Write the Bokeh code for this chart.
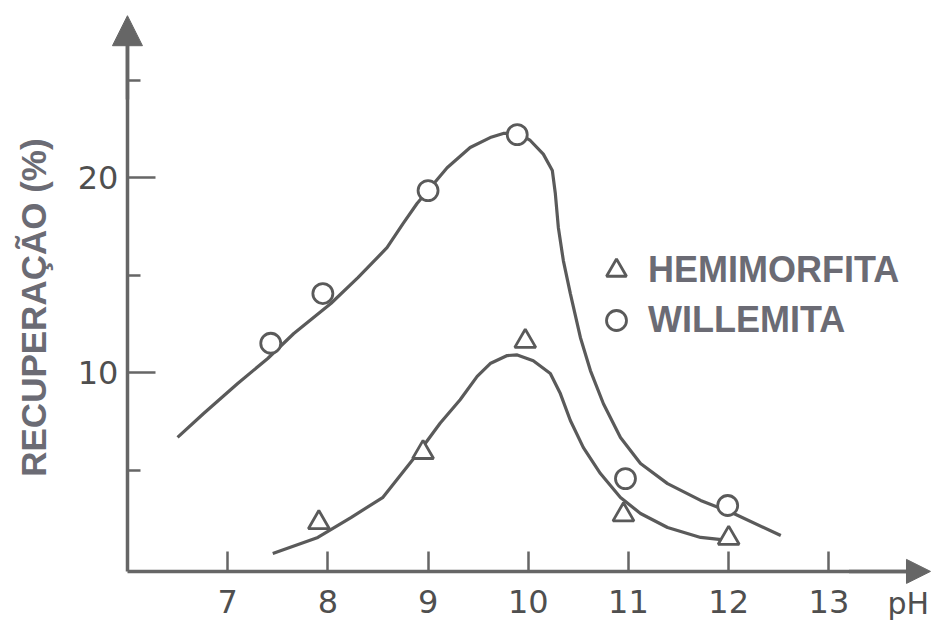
import math
from bokeh.plotting import figure
from bokeh.models import FixedTicker, Arrow, NormalHead, Label, Legend, LegendItem, Range1d
from bokeh.embed import file_html
from bokeh.resources import INLINE

# ---- data ----
x_ticks = [7, 8, 9, 10, 11, 12, 13]
y_major_ticks = [10, 20]
y_minor_ticks = [5, 15, 25]

ph_will = [7.43, 7.95, 9.0, 9.89, 10.97, 11.99]
rec_will = [11.5, 14.05, 19.33, 22.2, 4.56, 3.18]

ph_hemi = [7.91, 8.95, 9.97, 10.95, 12.0]
rec_hemi = [2.3, 5.9, 11.6, 2.7, 1.5]

curve_will_ph = [6.50, 6.76, 7.10, 7.40, 7.66, 8.03, 8.30, 8.59, 8.75, 8.89, 9.19, 9.42,
                 9.62, 9.75, 9.90, 10.02, 10.15, 10.24, 10.27, 10.30, 10.35, 10.42, 10.52,
                 10.62, 10.75, 10.92, 11.12, 11.39, 11.72, 12.05, 12.52]
curve_will_rec = [6.67, 7.90, 9.44, 10.72, 12.0, 13.54, 14.87, 16.4, 17.64, 18.67, 20.5, 21.54,
                  22.05, 22.26, 22.26, 21.9, 21.2, 20.36, 19.18, 17.44, 15.74, 14.05, 11.8,
                  10.1, 8.4, 6.67, 5.33, 4.3, 3.44, 2.77, 1.64]

curve_hemi_ph = [7.45, 7.9, 8.23, 8.55, 8.72, 8.92, 9.12, 9.32, 9.49, 9.62, 9.79, 9.89,
                 10.05, 10.22, 10.32, 10.42, 10.55, 10.72, 10.92, 11.12, 11.39, 11.72, 12.02]
curve_hemi_rec = [0.72, 1.54, 2.56, 3.6, 4.7, 6.0, 7.4, 8.6, 9.8, 10.46, 10.87, 10.9,
                  10.6, 9.95, 8.92, 7.54, 6.15, 4.82, 3.59, 2.77, 2.05, 1.54, 1.38]

LINE = "#5a5a5a"
AXIS = "#666666"
TEXT = "#6b6b74"

X0, X1 = 4.733, 14.034
Y0, Y1 = -2.77, 29.08
AX_X, AX_Y = 6.0, -0.2

p = figure(width=932, height=621, output_backend="svg", toolbar_location=None,
           x_range=Range1d(X0, X1), y_range=Range1d(Y0, Y1),
           min_border_left=0, min_border_right=0, min_border_top=0, min_border_bottom=0)
p.outline_line_color = None
p.grid.visible = False
p.background_fill_color = "white"

# curves
p.line(curve_will_ph, curve_will_rec, line_color=LINE, line_width=3.2)
p.line(curve_hemi_ph, curve_hemi_rec, line_color=LINE, line_width=3.2)

# points
r_hemi = p.scatter(ph_hemi, rec_hemi, marker="triangle", size=21, line_color=LINE,
                   line_width=2.8, fill_color="white")
r_will = p.scatter(ph_will, rec_will, marker="circle", size=20, line_color=LINE,
                   line_width=2.8, fill_color="white")

# axes (drawn at fixed positions inside the frame)
for ax in (p.xaxis[0], p.yaxis[0]):
    ax.axis_line_color = AXIS
    ax.axis_line_width = 3.5
    ax.major_tick_line_color = AXIS
    ax.major_tick_line_width = 2.5
    ax.major_tick_out = 0
    ax.minor_tick_out = 0
    ax.major_label_text_font = "DejaVu Sans"
    ax.major_label_text_font_size = "32px"
    ax.major_label_text_color = "#4f4f4f"

xa = p.xaxis[0]
xa.fixed_location = AX_Y
xa.bounds = (AX_X, 13.9)
xa.ticker = FixedTicker(ticks=x_ticks)
xa.major_tick_in = 20
xa.minor_tick_line_color = None
xa.major_label_standoff = 19

ya = p.yaxis[0]
ya.fixed_location = AX_X
ya.bounds = (AX_Y, 27.0)
ya.ticker = FixedTicker(ticks=y_major_ticks, minor_ticks=y_minor_ticks)
ya.major_tick_in = 28
ya.minor_tick_in = 13
ya.minor_tick_line_color = AXIS
ya.minor_tick_line_width = 2.5
ya.major_label_standoff = 9
ya.major_label_orientation = "horizontal"

# axis arrows
p.add_layout(Arrow(end=NormalHead(size=30, fill_color=AXIS, line_color=AXIS, line_width=1),
                   x_start=AX_X, y_start=24.0, x_end=AX_X, y_end=28.3,
                   line_color=AXIS, line_width=3.5))
p.add_layout(Arrow(end=NormalHead(size=24, fill_color=AXIS, line_color=AXIS, line_width=1),
                   x_start=13.2, y_start=AX_Y, x_end=14.014, y_end=AX_Y,
                   line_color=AXIS, line_width=3.5))

# axis titles
p.add_layout(Label(x=5.062, y=13.33, text="RECUPERAÇÃO (%)", angle=math.pi / 2,
                   text_align="center", text_baseline="middle",
                   text_font="Liberation Sans", text_font_style="bold",
                   text_font_size="35px", text_color=TEXT))
p.add_layout(Label(x=13.585, y=-2.74, text="pH", text_font="DejaVu Sans",
                   text_font_size="30px", text_color="#4f4f4f", text_baseline="bottom"))

# legend
legend = Legend(items=[LegendItem(label="HEMIMORFITA", renderers=[r_hemi]),
                       LegendItem(label="WILLEMITA", renderers=[r_will])],
                location=(591, 276), orientation="vertical",
                glyph_width=50, glyph_height=50, label_standoff=7, spacing=0,
                padding=0, margin=0, border_line_color=None, background_fill_alpha=0,
                label_text_font="Liberation Sans", label_text_font_style="bold",
                label_text_font_size="36px", label_text_color=TEXT)
p.add_layout(legend)

open("out.html", "w").write(file_html(p, INLINE))
